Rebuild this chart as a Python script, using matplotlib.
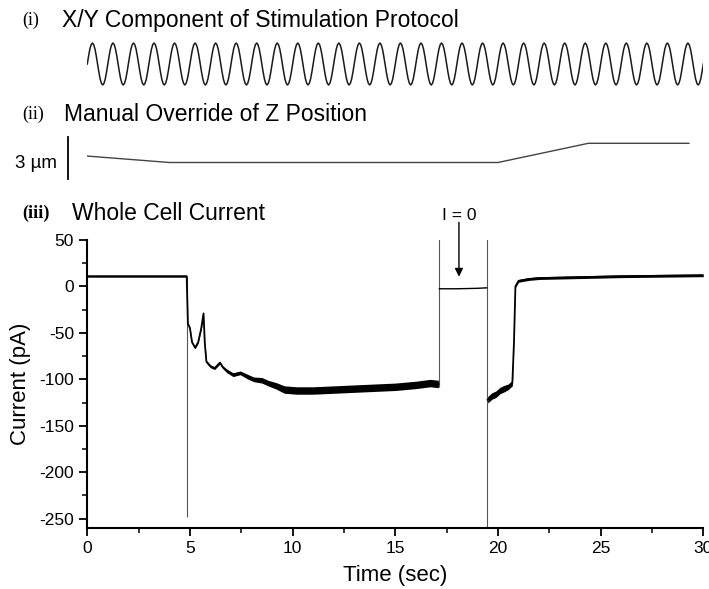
"""
Three stacked traces: X/Y stimulation sine, manual Z position override,
and whole-cell current with the I = 0 clamp interval.
"""
import numpy as np
import matplotlib
matplotlib.use("Agg")
import matplotlib.pyplot as plt
from matplotlib.ticker import MultipleLocator

plt.rcParams["font.family"] = ["Liberation Sans", "DejaVu Sans"]
plt.rcParams["axes.unicode_minus"] = False

W, H = 709, 589

# (i) stimulation: one cycle, repeated once per second
CYCLE_SHAPE = [0, .38, .71, .92, 1, .92, .71, .38, 0, -.38, -.71, -.92, -1, -.92, -.71, -.38]
N_CYCLES = 30

# (ii) Z position (um, relative to the resting level)
z_t = [0, 4.0, 20.0, 24.4, 29.3]
z_um = [0.46, 0.0, 0.0, 1.37, 1.37]

# (iii) whole-cell current (pA): mean trace and noise half-width
cur_t = [0, 1, 2, 3, 4, 4.84, 4.9, 5.0, 5.1, 5.25, 5.4, 5.55, 5.66, 5.72, 5.8, 6.0,
         6.2, 6.46, 6.6, 6.8, 7.1, 7.45, 7.8, 8.1, 8.5, 8.8, 9.2, 9.6, 10.2, 11, 12,
         13, 14, 15, 16, 16.7, 17.1]
cur_pa = [11, 11, 11, 11, 11, 11, -40, -45, -60, -66, -60, -45, -29, -60, -81, -86,
          -88, -82, -87, -91, -95, -93, -97, -100, -101, -104, -107, -111, -112, -112, -111,
          -110, -109, -108, -106, -104, -105]
cur_noise = [1, 1, 1, 1, 1, 1, 1, 1, 1, 1, 1, 1, 1, 1, 1.5, 1.5,
             1.5, 1.5, 1.5, 2, 2, 2, 2.5, 2.5, 3, 3, 3.5, 4, 4, 4, 4,
             4, 4, 4, 4, 4, 4]

izero_t = [17.15, 18.0, 19.0, 19.45]
izero_pa = [-2.5, -2.5, -2.0, -1.5]

rec_t = [19.5, 19.7, 19.9, 20.1, 20.3, 20.5, 20.7, 20.78, 20.85, 21.0, 21.5, 22, 24, 26, 28, 30]
rec_pa = [-122, -118, -116, -112, -110, -108, -104, -60, 0, 6, 8, 9, 10, 11, 11.5, 12]
rec_noise = [3.5, 3.5, 3.5, 3.5, 3.5, 3, 3, 1, 1, 1.5, 1.5, 1.5, 1.5, 1.5, 1.5, 1.5]

# switching transients (time, low, high)
tr_t = [4.87, 17.15, 19.45]
tr_lo = [-248, -108, -260]
tr_hi = [11, 51, 51]


def px_axes(fig, x0, y0, x1, y1):
    return fig.add_axes([x0 / W, 1 - y1 / H, (x1 - x0) / W, (y1 - y0) / H])


def fig_text(fig, x, y, s, **kw):
    fig.text(x / W, 1 - y / H, s, **kw)


fig = plt.figure(figsize=(W / 100, H / 100), dpi=100)
X0, X1 = 87.3, 703.3

# ---- (i) sine ----
ax1 = px_axes(fig, X0, 40, X1, 88)
shape = np.array(CYCLE_SHAPE + [CYCLE_SHAPE[0]])
sine = np.concatenate([shape[:-1]] * N_CYCLES + [shape[-1:]])
sine_t = np.linspace(0, N_CYCLES, len(sine))
ax1.plot(sine_t, sine, color="#1a1a1a", lw=1.1)
ax1.set_xlim(0, 30)
ax1.set_ylim(-1.143, 1.143)
ax1.axis("off")

# ---- (ii) Z position ----
ax2 = px_axes(fig, X0, 130, X1, 185)
ax2.plot(z_t, z_um, color="#444444", lw=1.0)
ax2.plot([-0.94, -0.94], [-1.18, 1.82], color="black", lw=1.3, clip_on=False)
ax2.set_xlim(0, 30)
ax2.set_ylim(-1.607, 2.321)
ax2.axis("off")

# ---- (iii) current ----
ax = px_axes(fig, X0, 240, X1, 528)
ax.vlines(tr_t, tr_lo, tr_hi, color="#555555", lw=0.8)
ax.fill_between(cur_t, np.subtract(cur_pa, cur_noise), np.add(cur_pa, cur_noise),
                color="black", lw=0)
ax.plot(cur_t, cur_pa, color="black", lw=1.3)
ax.plot(izero_t, izero_pa, color="black", lw=1.0)
ax.fill_between(rec_t, np.subtract(rec_pa, rec_noise), np.add(rec_pa, rec_noise),
                color="black", lw=0)
ax.plot(rec_t, rec_pa, color="black", lw=1.3)

ax.annotate("", xy=(18.1, 10.5), xytext=(18.1, 69),
            arrowprops=dict(arrowstyle="-|>", color="black", lw=1.0,
                            mutation_scale=12, shrinkA=0, shrinkB=0),
            annotation_clip=False)
ax.text(18.1, 76, "I = 0", ha="center", va="center", fontsize=12.5, clip_on=False)

ax.set_xlim(0, 30)
ax.set_ylim(-260, 50)
ax.xaxis.set_major_locator(MultipleLocator(5))
ax.xaxis.set_minor_locator(MultipleLocator(2.5))
ax.yaxis.set_major_locator(MultipleLocator(50))
ax.yaxis.set_minor_locator(MultipleLocator(25))
for s in ("top", "right"):
    ax.spines[s].set_visible(False)
for s in ("left", "bottom"):
    ax.spines[s].set_linewidth(1.5)
ax.tick_params(which="major", length=6, width=1.3, labelsize=12.5, direction="out")
ax.tick_params(which="minor", length=3.5, width=1.1, direction="out")
ax.set_xlabel("Time (sec)", fontsize=16, labelpad=6)
ax.set_ylabel("Current (pA)", fontsize=16, labelpad=6)

# ---- panel labels ----
serif = ["Liberation Serif", "DejaVu Serif"]
fig_text(fig, 22, 20, "(i)", family=serif, fontsize=13, va="center")
fig_text(fig, 62, 20, "X/Y Component of Stimulation Protocol", fontsize=16.5, va="center")
fig_text(fig, 22, 114, "(ii)", family=serif, fontsize=13, va="center")
fig_text(fig, 64, 114, "Manual Override of Z Position", fontsize=16.5, va="center")
fig_text(fig, 22, 213, "(iii)", family=serif, fontsize=13, weight="bold", va="center")
fig_text(fig, 72, 213, "Whole Cell Current", fontsize=16.5, va="center")
fig_text(fig, 57, 163, "3 \u00b5m", fontsize=13.5, ha="right", va="center")

fig.savefig("out.png", dpi=100)
